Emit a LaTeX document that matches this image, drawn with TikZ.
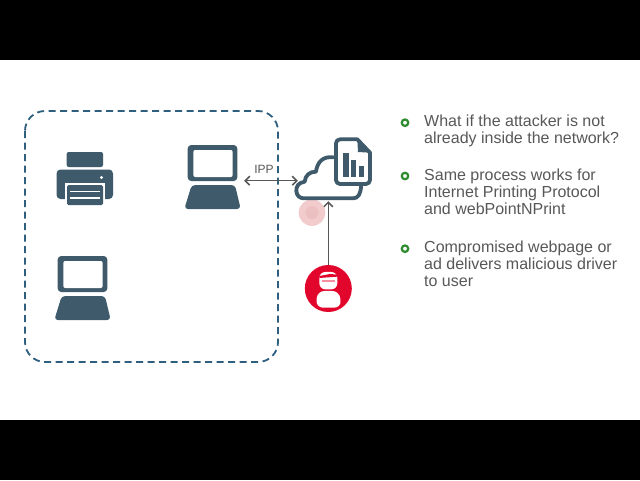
\documentclass[tikz,border=0pt]{standalone}
\usepackage{fontspec}
\setmainfont{Liberation Sans}
\usetikzlibrary{arrows.meta}
\definecolor{icon}{HTML}{3F5B6B}
\definecolor{dashblue}{HTML}{2F5F7F}
\definecolor{txt}{HTML}{585858}
\definecolor{ared}{HTML}{E2062C}
\definecolor{bgreen}{HTML}{2E8B2E}
\tikzset{
  bar/.style={fill=black,draw=none},
  iconline/.style={draw=icon,line width=3.8pt,line join=round},
  arrowline/.style={draw=txt,line width=1.5pt,{Straight Barb[length=4.5pt,width=9pt]}-{Straight Barb[length=4.5pt,width=9pt]}},
  arrowone/.style={draw=txt,line width=1.5pt,-{Straight Barb[length=4.5pt,width=9pt]}},
  bullet/.style={circle,draw=bgreen,line width=2.2pt,fill=white,minimum size=6.5pt,inner sep=0pt},
  point/.style={anchor=north west,align=left,text=txt,inner sep=0pt,font=\fontsize{16}{17.2}\selectfont},
  anchorpt/.style={inner sep=0pt,minimum size=0pt},
}
\newcommand{\laptopicon}{%
  \fill[icon,rounded corners=3.5pt] (57.7,256) rectangle (107.3,292);
  \fill[white,rounded corners=2pt] (63.3,261) rectangle (102.7,288);
  \fill[icon,rounded corners=3.5pt] (61.7,296) -- (105,296) -- (110.7,320) -- (54.3,320) -- cycle;
}
\begin{document}
\begin{tikzpicture}[x=1pt,y=-1pt]
\useasboundingbox (0,0) rectangle (640,480);
\fill[white] (0,0) rectangle (640,480);
\fill[bar] (0,0) rectangle (640,60);
\fill[bar] (0,420) rectangle (640,480);
% network boundary
\draw[dashblue,line width=1.8pt,dash pattern=on 7pt off 4.5pt,rounded corners=20pt] (25,111) rectangle (278,362);
% printer
\fill[icon,rounded corners=2pt] (66.7,152) rectangle (103,167);
\fill[icon,rounded corners=4pt] (56.5,169.5) rectangle (113,199);
\fill[white] (65,183) rectangle (105,205);
\fill[icon,rounded corners=1.5pt] (67,185) rectangle (103,205);
\fill[white] (70,190.5) rectangle (100,192);
\fill[white] (70,197) rectangle (100,198.8);
\fill[white] (101.5,177.5) circle (1.7);
% laptops
\laptopicon
\begin{scope}[shift={(130,-111)}]\laptopicon\end{scope}
% cloud and document
\begin{scope}[shift={(230,120)},x=0.3333pt,y=-0.3333pt]
  \fill[fill=red!75!black,opacity=.2] (246,278) circle (13.3pt);
  \fill[fill=red!60!black,opacity=.06] (246,278) circle (6.6pt);
  \draw[iconline,line cap=round] (310,112) .. controls (280,108) and (262,125) .. (258,155)
     .. controls (240,155) and (226,165) .. (224,185)
     .. controls (205,188) and (198,200) .. (199,213)
     .. controls (200,228) and (210,235) .. (222,235)
     -- (370,235) .. controls (385,235) and (393,220) .. (393,197);
  \fill[white] (330,58) -- (382,58) -- (420,98) -- (420,180) arc (0:90:12) -- (330,192) arc (90:180:12) -- (318,70) arc (180:270:12) -- cycle;
  \draw[iconline] (330,58) -- (382,58) -- (420,98) -- (420,180) arc (0:90:12) -- (330,192) arc (90:180:12) -- (318,70) arc (180:270:12) -- cycle;
  \fill[icon] (382,58) -- (420,98) -- (384,96) -- cycle;
  \fill[icon] (339,100) rectangle (356,172);
  \fill[icon] (362,120) rectangle (379,172);
  \fill[icon] (386,138) rectangle (401,172);
\end{scope}
% named connection points
\node[anchorpt] (lap) at (244,180.7) {};
\node[anchorpt] (cloudw) at (298,180.7) {};
\node[anchorpt] (cloudb) at (328.3,201) {};
% attacker
\node[circle,fill=ared,minimum size=47pt,inner sep=0pt] (att) at (328.3,288.5) {};
\begin{scope}[shift={(230,120)},x=0.3333pt,y=-0.3333pt]
  \fill[white,rounded corners=7pt] (262,513) -- (328,513) -- (334,563) -- (258,563) -- cycle;
  \fill[white,rounded corners=6pt] (268,456) rectangle (322,508);
  \fill[ared] (268,468) -- (300,462) -- (322,464) -- (322,470) -- (268,474) -- cycle;
  \fill[ared!45] (276,480) rectangle (314,486);
\end{scope}
\draw[arrowline] (lap) -- (cloudw);
\draw[arrowone] (att) -- (cloudb);
\node[text=txt,font=\fontsize{12}{13}\selectfont,inner sep=0pt] (ipp) at (264,169.5) {IPP};
% bullets
\node[bullet] (b1) at (405,122.7) {};
\node[bullet] (b2) at (405,176) {};
\node[bullet] (b3) at (405,248.7) {};
\node[point] (t1) at (424,114.5) {What if the attacker is not\\already inside the network?};
\node[point] (t2) at (424,168.3) {Same process works for\\Internet Printing Protocol\\and webPointNPrint};
\node[point] (t3) at (424,240.8) {Compromised webpage or\\ad delivers malicious driver\\to user};
\end{tikzpicture}
\end{document}
